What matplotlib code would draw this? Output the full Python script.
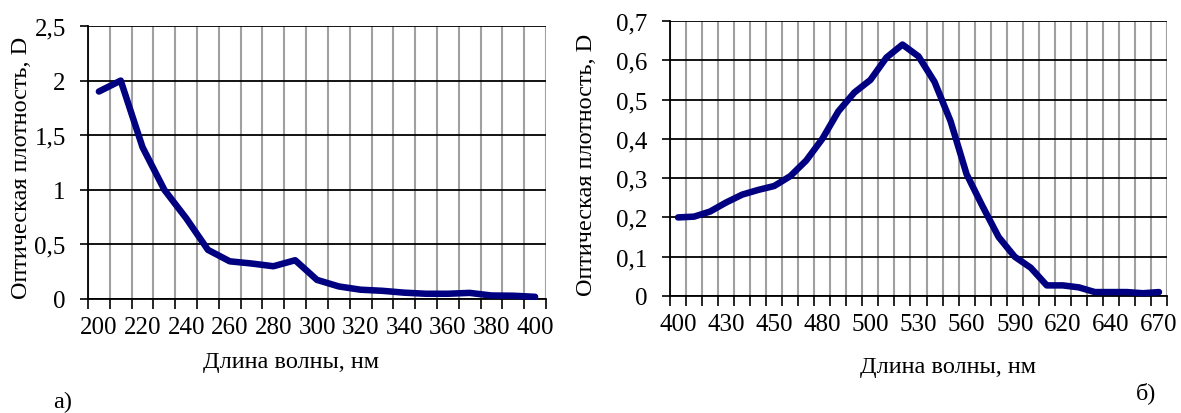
import numpy as np
import matplotlib
matplotlib.use("Agg")
import matplotlib.pyplot as plt
from matplotlib.ticker import FixedLocator, FuncFormatter

plt.rcParams['font.family'] = ['Liberation Serif', 'DejaVu Serif']

# a) UV part
wl_a = [200, 210, 220, 230, 240, 250, 260, 270, 280, 290, 300,
        310, 320, 330, 340, 350, 360, 370, 380, 390, 400]
d_a = [1.90, 2.00, 1.39, 1.00, 0.74, 0.45, 0.345, 0.325, 0.30, 0.355, 0.175,
       0.115, 0.085, 0.075, 0.058, 0.048, 0.048, 0.056, 0.032, 0.030, 0.020]

# b) visible part
wl_b = [400, 410, 420, 430, 440, 445, 450, 460, 470, 480, 490, 495, 500, 510, 520, 530,
        540, 550, 560, 570, 580, 590, 600, 610, 620, 625, 630, 640, 650, 660, 670]
d_b = [0.200, 0.202, 0.215, 0.238, 0.258, 0.270, 0.280, 0.305, 0.345, 0.400, 0.470,
       0.518, 0.550, 0.607, 0.640, 0.610, 0.545, 0.445, 0.310, 0.228, 0.150,
       0.100, 0.072, 0.027, 0.027, 0.022, 0.010, 0.010, 0.010, 0.007, 0.010]

line_color = '#000080'
fs_tick = 18
fs_lab = 17.5


def comma(v, pos):
    return ('%g' % round(v, 3)).replace('.', ',')


def excel_axes(ax, wl, d, step, ymax, ystep):
    n = len(wl)
    x = np.arange(n)
    ax.plot(x, d, color=line_color, lw=4.7, solid_capstyle='round',
            solid_joinstyle='round', zorder=5, clip_on=False)
    ax.set_xlim(-0.5, n - 0.5)
    ax.set_ylim(0, ymax)

    # category boundaries -> tick marks + grey grid
    ax.xaxis.set_minor_locator(FixedLocator(np.arange(n + 1) - 0.5))
    ax.xaxis.set_major_locator(FixedLocator(x[::step]))
    ax.set_xticklabels([str(w) for w in wl[::step]])
    ax.tick_params(axis='x', which='major', length=0, pad=12, labelsize=fs_tick)
    ax.tick_params(axis='x', which='minor', length=7, width=1.2, direction='out')
    ax.grid(True, axis='x', which='minor', color='#a0a0a0', lw=1.5)

    ax.set_yticks(np.arange(0, ymax + ystep / 2, ystep))
    ax.yaxis.set_major_formatter(FuncFormatter(comma))
    ax.tick_params(axis='y', length=6, width=1.2, direction='out', pad=10, labelsize=fs_tick)
    ax.grid(True, axis='y', which='major', color='black', lw=1.3)

    ax.spines['top'].set_visible(False)
    ax.spines['right'].set_visible(False)
    ax.spines['left'].set_linewidth(1.3)
    ax.spines['bottom'].set_linewidth(1.3)
    ax.set_axisbelow(True)


fig = plt.figure(figsize=(11.81, 4.14), dpi=100)
W, H = 1181.0, 414.0

ax1 = fig.add_axes([88 / W, 1 - 300 / H, 458 / W, 273 / H])
excel_axes(ax1, wl_a, d_a, 2, 2.5, 0.5)

ax2 = fig.add_axes([670 / W, 1 - 297 / H, 497 / W, 275 / H])
excel_axes(ax2, wl_b, d_b, 3, 0.7, 0.1)

ylab = 'Оптическая плотность, D'
xlab = 'Длина волны, нм'
fig.text(22 / W, 1 - 168 / H, ylab, rotation=90, ha='center', va='center', fontsize=fs_lab)
fig.text(291 / W, 1 - 363 / H, xlab, ha='center', va='center', fontsize=fs_lab)
fig.text(63 / W, 1 - 402 / H, 'а)', ha='center', va='center', fontsize=fs_lab)

fig.text(587 / W, 1 - 165 / H, ylab, rotation=90, ha='center', va='center', fontsize=fs_lab)
fig.text(948 / W, 1 - 368 / H, xlab, ha='center', va='center', fontsize=fs_lab)
fig.text(1146 / W, 1 - 393 / H, 'б)', ha='center', va='center', fontsize=fs_lab)

fig.savefig('out.png', dpi=100)
